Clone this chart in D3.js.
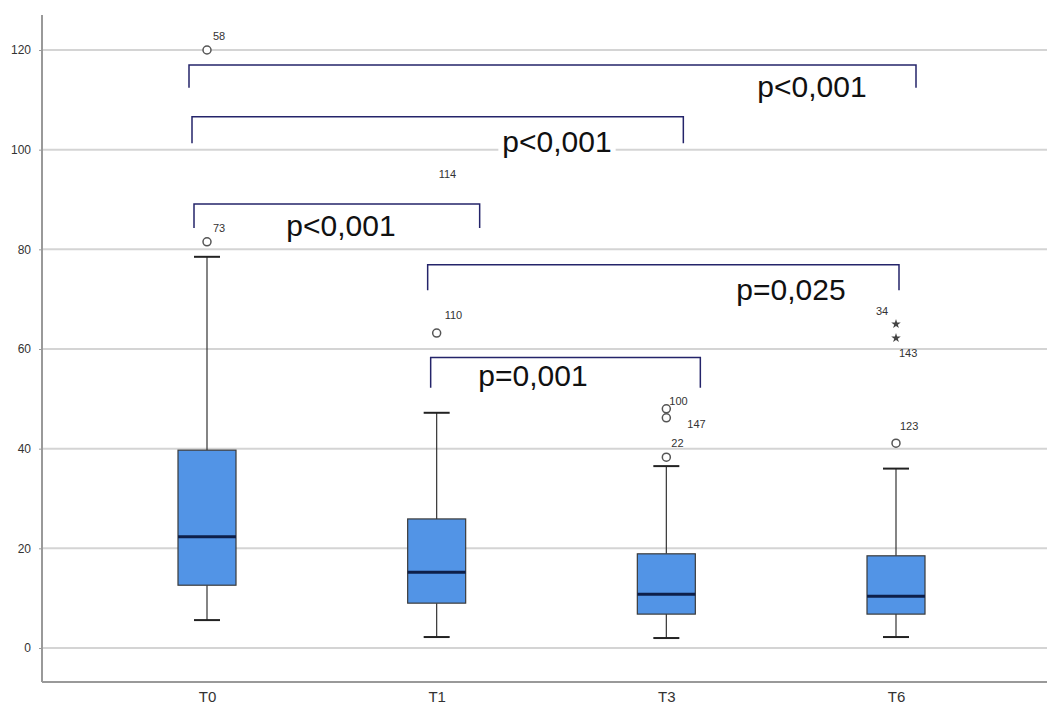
<!DOCTYPE html>
<html>
<head>
<meta charset="utf-8">
<script src="https://cdn.jsdelivr.net/npm/d3@7"></script>
<style>
  body { margin: 0; background: #fff; }
  svg { display: block; }
</style>
</head>
<body>
<div id="chart"></div>
<script>
// categories and box statistics
const groups = ['T0', 'T1', 'T3', 'T6'];
const whiskerLow = [5.6, 2.2, 2.0, 2.2];
const q1 = [12.6, 9.0, 6.8, 6.8];
const median = [22.3, 15.2, 10.8, 10.4];
const q3 = [39.7, 25.9, 18.9, 18.5];
const whiskerHigh = [78.5, 47.2, 36.5, 36.0];

// outliers: [group, value, case label, kind]
const outliers = [
  ['T0', 120, '58', 'o'],
  ['T0', 81.5, '73', 'o'],
  ['T1', 63.2, '110', 'o'],
  ['T1', 93.0, '114', 'none'],
  ['T3', 48.0, '100', 'o'],
  ['T3', 46.2, '147', 'o'],
  ['T3', 38.3, '22', 'o'],
  ['T6', 65.0, '34', '*'],
  ['T6', 62.2, '143', '*'],
  ['T6', 41.1, '123', 'o']
];

// significance brackets: [from, to, line value, leg end value, text]
const brackets = [
  ['T0', 'T6', 117.0, 112.4, 'p<0,001'],
  ['T0', 'T3', 106.6, 101.3, 'p<0,001'],
  ['T0', 'T1', 89.1, 84.3, 'p<0,001'],
  ['T1', 'T6', 76.9, 71.8, 'p=0,025'],
  ['T1', 'T3', 58.3, 52.2, 'p=0,001']
];

const yTicks = [0, 20, 40, 60, 80, 100, 120];

const width = 1047, height = 714;
const svg = d3.select('#chart').append('svg')
  .attr('width', width)
  .attr('height', height);

const x = d3.scalePoint().domain(groups).range([207, 896]);
const y = d3.scaleLinear().domain([0, 120]).range([648, 50]);
const axisLeft = 42, axisBottom = 682;

// gridlines
svg.append('g')
  .selectAll('line')
  .data(yTicks)
  .enter()
  .append('line')
  .attr('x1', axisLeft)
  .attr('x2', width)
  .attr('y1', d => y(d))
  .attr('y2', d => y(d))
  .attr('stroke', '#d4d4d4')
  .attr('stroke-width', 2);

// y axis
const yAxis = svg.append('g')
  .attr('transform', 'translate(' + axisLeft + ',0)')
  .call(d3.axisLeft(y).tickValues(yTicks).tickSize(3).tickPadding(8));
yAxis.select('.domain').remove();
yAxis.selectAll('.tick line').attr('stroke', '#999');
yAxis.selectAll('text')
  .attr('font-family', 'Liberation Sans Narrow, Liberation Sans, Arial, sans-serif')
  .attr('font-size', 12)
  .attr('fill', '#333');
svg.append('line')
  .attr('x1', axisLeft).attr('x2', axisLeft)
  .attr('y1', 15).attr('y2', axisBottom)
  .attr('stroke', '#999').attr('stroke-width', 2);

// x axis
svg.append('line')
  .attr('x1', axisLeft).attr('x2', width)
  .attr('y1', axisBottom).attr('y2', axisBottom)
  .attr('stroke', '#999').attr('stroke-width', 2);
const xAxis = svg.append('g')
  .attr('transform', 'translate(0,' + axisBottom + ')')
  .call(d3.axisBottom(x).tickSize(0).tickPadding(9));
xAxis.select('.domain').remove();
xAxis.selectAll('text')
  .attr('font-family', 'Liberation Sans Narrow, Liberation Sans, Arial, sans-serif')
  .attr('font-size', 15)
  .attr('fill', '#333');

// boxes
const boxW = 58, capW = 26;
const boxes = svg.append('g');
groups.forEach((g, i) => {
  const cx = x(g);
  boxes.append('line')
    .attr('x1', cx).attr('x2', cx)
    .attr('y1', y(whiskerHigh[i])).attr('y2', y(q3[i]))
    .attr('stroke', '#333').attr('stroke-width', 1.2);
  boxes.append('line')
    .attr('x1', cx).attr('x2', cx)
    .attr('y1', y(q1[i])).attr('y2', y(whiskerLow[i]))
    .attr('stroke', '#333').attr('stroke-width', 1.2);
  [whiskerHigh[i], whiskerLow[i]].forEach(v => {
    boxes.append('line')
      .attr('x1', cx - capW / 2).attr('x2', cx + capW / 2)
      .attr('y1', y(v)).attr('y2', y(v))
      .attr('stroke', '#222').attr('stroke-width', 2);
  });
  boxes.append('rect')
    .attr('x', cx - boxW / 2)
    .attr('y', y(q3[i]))
    .attr('width', boxW)
    .attr('height', y(q1[i]) - y(q3[i]))
    .attr('fill', '#5294e6')
    .attr('stroke', '#3a3a3a')
    .attr('stroke-width', 1.2);
  boxes.append('line')
    .attr('x1', cx - boxW / 2).attr('x2', cx + boxW / 2)
    .attr('y1', y(median[i])).attr('y2', y(median[i]))
    .attr('stroke', '#0d1f4a').attr('stroke-width', 3);
});

// outliers
const labelOffsets = {
  '58': [6, -10], '73': [6, -10], '110': [8, -14], '114': [2, -7],
  '100': [3, -4], '147': [21, 10], '22': [5, -10],
  '34': [-20, -9], '143': [3, 19], '123': [4, -13]
};
const outG = svg.append('g');
outliers.forEach(d => {
  const cx = x(d[0]), cy = y(d[1]);
  if (d[3] === 'o') {
    outG.append('circle')
      .attr('cx', cx).attr('cy', cy).attr('r', 4)
      .attr('fill', '#fff').attr('stroke', '#555').attr('stroke-width', 1.5);
  } else if (d[3] === '*') {
    outG.append('path')
      .attr('d', d3.symbol(d3.symbolStar, 28)())
      .attr('transform', 'translate(' + cx + ',' + cy + ')')
      .attr('fill', '#444');
  }
  const off = labelOffsets[d[2]];
  outG.append('text')
    .attr('x', cx + off[0]).attr('y', cy + off[1])
    .attr('font-family', 'Liberation Sans, Arial, sans-serif')
    .attr('font-size', 11)
    .attr('fill', '#333')
    .text(d[2]);
});

// significance brackets: left/right end offsets from the group centres, text position
const bracketEnds = [[-18, 20], [-15, 17], [-13, 43], [-9, 3], [-6, 34]];
const textPos = [[812, 97], [557, 152], [341, 236], [791, 300], [533, 386]];
const brG = svg.append('g');
brackets.forEach((b, i) => {
  const x1 = x(b[0]) + bracketEnds[i][0], x2 = x(b[1]) + bracketEnds[i][1];
  brG.append('path')
    .attr('d', 'M' + x1 + ',' + y(b[3]) + 'V' + y(b[2]) + 'H' + x2 + 'V' + y(b[3]))
    .attr('fill', 'none')
    .attr('stroke', '#24246a')
    .attr('stroke-width', 1.5);
  const t = brG.append('text')
    .attr('x', textPos[i][0]).attr('y', textPos[i][1])
    .attr('text-anchor', 'middle')
    .attr('font-family', 'Liberation Sans, Arial, sans-serif')
    .attr('font-size', 30)
    .attr('fill', '#111')
    .text(b[4]);
  const bb = t.node().getBBox();
  brG.insert('rect', 'text')
    .attr('x', bb.x - 4).attr('y', bb.y + 6)
    .attr('width', bb.width + 8).attr('height', bb.height - 6)
    .attr('fill', '#fff');
});
</script>
</body>
</html>
